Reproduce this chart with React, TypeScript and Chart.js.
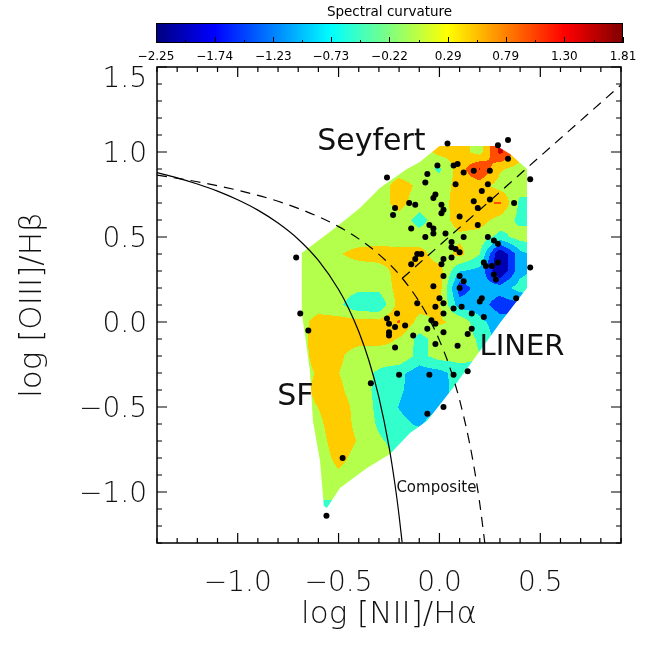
import { useEffect, useRef } from 'react';
import { Chart, registerables } from 'chart.js';

Chart.register(...registerables);

// ---- scatter points: log [NII]/Ha (x) and log [OIII]/Hb (y)
const niiValues = [0.04, 0.29, 0.34, 0.34, 0.45, -0.26, -0.01, 0.07, 0.09, 0.12, 0.17, 0.25, -0.06, -0.07, 0.08, 0.24, 0.21, -0.02, -0.03, 0.17, 0.19, 0.25, 0.37, -0.22, -0.23, -0.15, -0.12, 0.01, 0.02, 0.01, 0.10, 0.19, -0.05, -0.03, -0.14, -0.07, -0.03, 0.03, 0.12, 0.24, 0.27, 0.29, 0.06, 0.06, 0.08, 0.10, -0.09, -0.71, -0.14, -0.12, -0.11, 0.02, 0.06, 0.01, 0.22, 0.23, 0.26, 0.29, 0.45, 0.27, 0.28, 0.02, 0.10, 0.12, 0.10, -0.03, 0.21, 0.20, 0.38, 0.00, 0.02, -0.02, 0.07, 0.11, -0.11, 0.02, 0.16, 0.22, -0.04, -0.02, -0.69, -0.21, -0.26, -0.25, -0.65, -0.22, -0.17, -0.13, -0.25, -0.25, -0.22, -0.06, 0.02, 0.14, 0.16, -0.02, 0.09, -0.20, -0.34, -0.05, 0.07, 0.14, 0.02, -0.06, -0.48, -0.56];
const oiiiValues = [1.05, 1.04, 1.07, 0.96, 0.84, 0.85, 0.92, 0.92, 0.93, 0.88, 0.89, 0.89, 0.87, 0.82, 0.81, 0.81, 0.77, 0.75, 0.73, 0.71, 0.67, 0.72, 0.70, 0.67, 0.63, 0.70, 0.69, 0.69, 0.66, 0.64, 0.62, 0.57, 0.57, 0.55, 0.55, 0.50, 0.52, 0.52, 0.50, 0.50, 0.48, 0.46, 0.47, 0.44, 0.43, 0.41, 0.40, 0.38, 0.34, 0.37, 0.40, 0.37, 0.38, 0.34, 0.35, 0.33, 0.33, 0.35, 0.32, 0.28, 0.25, 0.27, 0.27, 0.24, 0.20, 0.21, 0.14, 0.12, 0.14, 0.14, 0.11, 0.09, 0.08, 0.09, 0.11, 0.05, 0.05, 0.03, 0.01, -0.01, 0.05, 0.05, 0.02, -0.01, -0.05, -0.03, -0.02, -0.08, -0.06, -0.08, -0.15, -0.04, -0.06, -0.07, -0.04, -0.13, -0.14, -0.31, -0.36, -0.31, -0.31, -0.29, -0.50, -0.54, -0.80, -1.14];

// ---- spectral curvature field (grid)
const fieldX = [-0.7, -0.6, -0.5, -0.4, -0.3, -0.2, -0.1, 0.0, 0.1, 0.2, 0.3, 0.4, 0.5];
const fieldY = [1.1, 1.0, 0.9, 0.8, 0.7, 0.6, 0.5, 0.4, 0.3, 0.2, 0.1, 0.0, -0.1, -0.2, -0.3, -0.4, -0.5, -0.6, -0.7, -0.8, -0.9, -1.0, -1.1, -1.2];
const fieldRows = [
  [0.05, 0.05, 0.05, 0.05, 0.05, 0.05, 0.05, 0.45, 0.5, 0.1, 1.45, 0.5, 0.1],
  [0.05, 0.05, 0.05, 0.05, 0.05, 0.05, 0.0, 0.45, 0.5, 0.1, 1.45, 0.5, 0.1],
  [0.05, 0.05, 0.05, 0.05, 0.05, 0.05, 0.0, -0.3, 0.55, 1.35, 0.35, 0.1, 0.1],
  [0.05, 0.05, 0.05, 0.05, 0.05, 0.5, 0.2, 0.0, 0.5, 0.5, 0.1, 0.0, 0.0],
  [0.05, 0.05, 0.05, 0.05, 0.05, 0.5, 0.0, 0.1, 0.5, 0.7, 0.85, -0.35, -0.35],
  [0.05, 0.05, 0.05, 0.05, 0.05, 0.05, -0.4, 0.05, 0.5, 0.5, 0.1, -0.35, -0.35],
  [0.05, 0.05, 0.05, 0.05, 0.05, 0.0, 0.0, 0.0, 0.2, 0.1, -0.4, 0.0, 0.0],
  [0.05, 0.05, 0.25, 0.45, 0.5, 0.5, 0.5, 0.0, 0.45, -0.2, -2.25, -0.9, -0.5],
  [0.05, 0.05, 0.05, 0.05, 0.1, 0.45, 0.5, 0.5, -0.7, -0.9, -2.25, -0.9, -0.5],
  [0.05, 0.05, 0.05, -0.1, -0.1, 0.5, 0.55, 0.5, -1.5, -1.0, -1.0, -0.5, -0.5],
  [0.05, 0.05, -0.1, -0.65, -0.65, 0.5, 0.5, 0.35, -1.0, -1.0, -1.5, -1.4, -1.0],
  [0.05, 0.5, 0.5, 0.5, 0.45, 0.85, 0.1, 0.35, 0.2, -0.6, -1.0, -1.0, -1.0],
  [0.05, 0.55, 0.55, 0.5, 0.45, 0.25, -0.4, 0.0, 0.1, -0.3, -1.0, -1.0, -1.0],
  [0.05, 0.5, 0.4, 0.0, 0.05, 0.2, -0.4, 0.0, 0.0, -0.2, -0.5, -0.5, -0.5],
  [0.05, 0.35, 0.3, 0.0, -0.3, -0.6, -1.0, -0.9, -0.5, -0.4, -0.4, -0.4, -0.4],
  [0.05, 0.45, 0.4, 0.0, -0.35, -0.65, -1.0, -0.95, -0.5, -0.4, -0.4, -0.4, -0.4],
  [0.05, 0.3, 0.55, 0.1, -0.35, -0.75, -1.0, -0.8, -0.5, -0.4, -0.4, -0.4, -0.4],
  [0.05, 0.2, 0.55, 0.15, -0.3, -0.6, -0.8, -0.4, -0.4, -0.4, -0.4, -0.4, -0.4],
  [0.05, 0.1, 0.55, 0.25, -0.15, -0.4, -0.4, -0.3, -0.3, -0.3, -0.3, -0.3, -0.3],
  [0.05, 0.0, 0.45, 0.1, 0.0, -0.3, -0.3, -0.3, -0.3, -0.3, -0.3, -0.3, -0.3],
  [0.05, 0.0, 0.2, 0.0, 0.0, -0.2, -0.3, -0.3, -0.3, -0.3, -0.3, -0.3, -0.3],
  [0.05, 0.0, 0.0, 0.0, -0.1, -0.2, -0.3, -0.3, -0.3, -0.3, -0.3, -0.3, -0.3],
  [-0.45, -0.45, -0.45, -0.3, -0.3, -0.3, -0.3, -0.3, -0.3, -0.3, -0.3, -0.3, -0.3],
  [-0.45, -0.45, -0.45, -0.3, -0.3, -0.3, -0.3, -0.3, -0.3, -0.3, -0.3, -0.3, -0.3],
];
// outline of the interpolated region
const hullX = [0.0, 0.285, 0.35, 0.434, 0.434, 0.3, 0.211, 0.067, -0.062, -0.146, -0.245, -0.359, -0.493, -0.558, -0.573, -0.592, -0.627, -0.642, -0.667, -0.682, -0.682, -0.518, -0.394, -0.295, -0.161, -0.097];
const hullY = [1.035, 1.035, 0.988, 0.9, 0.2, -0.006, -0.153, -0.388, -0.582, -0.653, -0.776, -0.859, -0.976, -1.094, -1.082, -0.818, -0.582, -0.288, -0.071, 0.047, 0.406, 0.553, 0.671, 0.788, 0.9, 0.941];

// ---- demarcation curves
const kauffmannX = [-1.4, -1.3, -1.2, -1.1, -1.0, -0.9, -0.8, -0.7, -0.6, -0.5, -0.45, -0.4, -0.35, -0.3, -0.25, -0.22, -0.2, -0.185];
const kauffmannY = [0.879, 0.848, 0.812, 0.77, 0.719, 0.658, 0.582, 0.487, 0.362, 0.191, 0.08, -0.056, -0.225, -0.443, -0.733, -0.959, -1.14, -1.296];
const kewleyX = [-1.4, -1.2, -1.0, -0.8, -0.6, -0.5, -0.4, -0.3, -0.2, -0.1, -0.05, 0.0, 0.05, 0.1, 0.15, 0.175, 0.2, 0.225];
const kewleyY = [0.864, 0.825, 0.775, 0.71, 0.62, 0.561, 0.489, 0.398, 0.28, 0.12, 0.017, -0.108, -0.262, -0.459, -0.716, -0.878, -1.069, -1.3];
const seyfertLinerX = [-0.184, 0.9];
const seyfertLinerY = [0.257, 1.395];

// ---- ticks
const xTickValues = [-1.0, -0.5, 0.0, 0.5];
const yTickValues = [-1.0, -0.5, 0.0, 0.5, 1.0, 1.5];
const colorbarTicks = [-2.25, -1.74, -1.23, -0.73, -0.22, 0.29, 0.79, 1.3, 1.81];

const FONT = "'DejaVu Sans', 'Liberation Sans', sans-serif";

function jet(t: number): number[] {
  const c = (v: number) => Math.max(0, Math.min(1, v));
  return [c(1.5 - Math.abs(4 * t - 3)), c(1.5 - Math.abs(4 * t - 2)), c(1.5 - Math.abs(4 * t - 1))].map((v) => Math.round(v * 255));
}

const cMin = colorbarTicks[0];
const cMax = colorbarTicks[colorbarTicks.length - 1];

function bandColor(v: number): number[] {
  let idx = 0;
  for (let k = 1; k < colorbarTicks.length - 1; k++) if (v >= colorbarTicks[k]) idx = k;
  const lv = colorbarTicks[idx] + 0.4 * (colorbarTicks[idx + 1] - colorbarTicks[idx]);
  return jet((lv - cMin) / (cMax - cMin));
}

function sampleField(X: number, Y: number): number {
  const nx = fieldX.length, ny = fieldY.length;
  let fx = (X - fieldX[0]) / (fieldX[1] - fieldX[0]);
  let fy = (fieldY[0] - Y) / (fieldY[0] - fieldY[1]);
  fx = Math.max(0, Math.min(nx - 1.0001, fx));
  fy = Math.max(0, Math.min(ny - 1.0001, fy));
  const i = Math.floor(fx), j = Math.floor(fy);
  const tx = fx - i, ty = fy - j;
  const a = fieldRows[j][i], b = fieldRows[j][i + 1];
  const c = fieldRows[j + 1][i], d = fieldRows[j + 1][i + 1];
  return (a * (1 - tx) + b * tx) * (1 - ty) + (c * (1 - tx) + d * tx) * ty;
}

const fieldPlugin = {
  id: 'curvatureField',
  beforeDatasetsDraw(chart: any) {
    const { ctx, scales } = chart;
    const xs = scales.x, ys = scales.y;
    const hx = hullX.map((v) => xs.getPixelForValue(v));
    const hy = hullY.map((v) => ys.getPixelForValue(v));
    const x0 = Math.floor(Math.min(...hx)) - 1, x1 = Math.ceil(Math.max(...hx)) + 1;
    const y0 = Math.floor(Math.min(...hy)) - 1, y1 = Math.ceil(Math.max(...hy)) + 1;
    const w = x1 - x0, h = y1 - y0;
    const off = document.createElement('canvas');
    off.width = w; off.height = h;
    const octx = off.getContext('2d')!;
    const img = octx.createImageData(w, h);
    for (let j = 0; j < h; j++) {
      const Y = ys.getValueForPixel(y0 + j + 0.5);
      for (let i = 0; i < w; i++) {
        const X = xs.getValueForPixel(x0 + i + 0.5);
        const col = bandColor(sampleField(X, Y));
        const p = (j * w + i) * 4;
        img.data[p] = col[0]; img.data[p + 1] = col[1]; img.data[p + 2] = col[2]; img.data[p + 3] = 255;
      }
    }
    octx.putImageData(img, 0, 0);
    ctx.save();
    ctx.beginPath();
    hx.forEach((px, k) => (k === 0 ? ctx.moveTo(px, hy[k]) : ctx.lineTo(px, hy[k])));
    ctx.closePath();
    ctx.clip();
    ctx.drawImage(off, x0, y0);
    ctx.restore();
  },
};

const fmt = (v: number | string) => Number(v).toFixed(1).replace('-', '\u2212');

const framePlugin = {
  id: 'frameAndDecor',
  afterDatasetsDraw(chart: any) {
    const { ctx, chartArea, scales } = chart;
    const xs = scales.x, ys = scales.y;
    const { left, right, top, bottom } = chartArea;
    ctx.save();
    ctx.strokeStyle = '#000';
    ctx.lineWidth = 1.5;
    ctx.strokeRect(left, top, right - left, bottom - top);
    ctx.lineWidth = 1.2;
    ctx.beginPath();
    for (let k = Math.round(xs.min * 10); k <= Math.round(xs.max * 10); k++) {
      const v = k / 10;
      const len = k % 5 === 0 ? 10 : 5;
      const px = xs.getPixelForValue(v);
      ctx.moveTo(px, bottom); ctx.lineTo(px, bottom - len);
      ctx.moveTo(px, top); ctx.lineTo(px, top + len);
    }
    for (let k = Math.round(ys.min * 10); k <= Math.round(ys.max * 10); k++) {
      const v = k / 10;
      const len = k % 5 === 0 ? 10 : 5;
      const py = ys.getPixelForValue(v);
      ctx.moveTo(left, py); ctx.lineTo(left + len, py);
      ctx.moveTo(right, py); ctx.lineTo(right - len, py);
    }
    ctx.stroke();

    // y tick labels (kept inside the frame height like the original)
    ctx.fillStyle = '#111';
    ctx.font = `200 28px ${FONT}`;
    ctx.textAlign = 'right';
    ctx.textBaseline = 'middle';
    yTickValues.forEach((v) => {
      const py = Math.max(ys.getPixelForValue(v) + 3, top + 13);
      ctx.fillText(fmt(v), left - 10, py);
    });

    // region labels
    ctx.textAlign = 'center';
    const label = (t: string, x: number, y: number, size: number) => {
      ctx.font = `${size}px ${FONT}`;
      ctx.fillText(t, xs.getPixelForValue(x), ys.getPixelForValue(y));
    };
    label('Seyfert', -0.337, 1.055, 30);
    label('LINER', 0.409, -0.15, 29);
    label('SF', -0.714, -0.445, 30);
    label('Composite', -0.015, -0.976, 15);

    // colorbar
    const cbL = left - 1, cbR = right + 2, cbT = 23, cbB = 43;
    const cbW = cbR - cbL;
    for (let i = 0; i < cbW; i++) {
      const col = jet((i + 0.5) / cbW);
      ctx.fillStyle = `rgb(${col[0]},${col[1]},${col[2]})`;
      ctx.fillRect(cbL + i, cbT, 1, cbB - cbT);
    }
    ctx.strokeStyle = '#000';
    ctx.lineWidth = 1;
    ctx.strokeRect(cbL + 0.5, cbT + 0.5, cbW - 1, cbB - cbT - 1);
    const cbPix = (v: number) => cbL + ((v - cMin) / (cMax - cMin)) * cbW;
    ctx.beginPath();
    colorbarTicks.forEach((v, k) => {
      const px = Math.round(cbPix(v)) + 0.5;
      ctx.moveTo(px, cbB); ctx.lineTo(px, cbB - 6);
      if (k < colorbarTicks.length - 1) {
        const pm = Math.round(cbPix((v + colorbarTicks[k + 1]) / 2)) + 0.5;
        ctx.moveTo(pm, cbB); ctx.lineTo(pm, cbB - 3);
      }
    });
    ctx.stroke();
    ctx.fillStyle = '#000';
    ctx.font = `12px ${FONT}`;
    ctx.textAlign = 'center';
    ctx.textBaseline = 'middle';
    colorbarTicks.forEach((v) => {
      ctx.fillText(v.toFixed(2).replace('-', '\u2212'), cbPix(v), 57);
    });
    ctx.font = `13.5px ${FONT}`;
    ctx.fillText('Spectral curvature', (cbL + cbR) / 2, 12);
    ctx.restore();
  },
};

export default function App() {
  const ref = useRef<HTMLCanvasElement | null>(null);
  useEffect(() => {
    if (!ref.current) return;
    const tickFont = { family: FONT, size: 28, weight: '200' as any };
    const titleFont = { family: FONT, size: 31, weight: '200' as any };
    const chart = new Chart(ref.current, {
      type: 'scatter',
      data: {
        datasets: [
          {
            type: 'line',
            data: kauffmannX.map((x, i) => ({ x, y: kauffmannY[i] })),
            borderColor: '#000',
            borderWidth: 1.2,
            pointRadius: 0,
            cubicInterpolationMode: 'monotone',
            fill: false,
          },
          {
            type: 'line',
            data: kewleyX.map((x, i) => ({ x, y: kewleyY[i] })),
            borderColor: '#000',
            borderWidth: 1.2,
            borderDash: [10, 7],
            pointRadius: 0,
            cubicInterpolationMode: 'monotone',
            fill: false,
          },
          {
            type: 'line',
            data: seyfertLinerX.map((x, i) => ({ x, y: seyfertLinerY[i] })),
            borderColor: '#000',
            borderWidth: 1.2,
            borderDash: [10, 7],
            pointRadius: 0,
            fill: false,
          },
          {
            type: 'scatter',
            data: niiValues.map((x, i) => ({ x, y: oiiiValues[i] })),
            backgroundColor: '#000',
            borderWidth: 0,
            pointRadius: 3,
          },
        ] as any,
      },
      options: {
        responsive: false,
        animation: false,
        layout: { padding: { left: 0, right: 44, top: 67, bottom: 0 } },
        plugins: { legend: { display: false }, tooltip: { enabled: false } },
        scales: {
          x: {
            type: 'linear',
            min: -1.4,
            max: 0.9,
            grid: { display: false, drawTicks: false },
            border: { display: false },
            afterBuildTicks: (s: any) => { s.ticks = xTickValues.map((value) => ({ value })); },
            afterFit: (s: any) => { s.height = 103; },
            ticks: { font: tickFont, color: '#111', padding: 24, callback: fmt, maxRotation: 0, autoSkip: false },
            title: { display: true, text: 'log [NII]/H\u03b1', font: titleFont, color: '#111', padding: { top: 0, bottom: 12 } },
          },
          y: {
            type: 'linear',
            min: -1.3,
            max: 1.5,
            grid: { display: false, drawTicks: false },
            border: { display: false },
            afterBuildTicks: (s: any) => { s.ticks = yTickValues.map((value) => ({ value })); },
            afterFit: (s: any) => { s.width = 157; },
            ticks: { display: false },
            title: { display: true, text: 'log [OIII]/H\u03b2', font: titleFont, color: '#111', padding: { top: 14, bottom: 0 } },
          },
        },
      } as any,
      plugins: [fieldPlugin, framePlugin],
    });
    return () => chart.destroy();
  }, []);
  return (
    <div style={{ position: 'absolute', left: 0, top: 0, width: 665, height: 646, background: '#fff' }}>
      <canvas ref={ref} width={665} height={646} style={{ display: 'block' }} />
    </div>
  );
}
